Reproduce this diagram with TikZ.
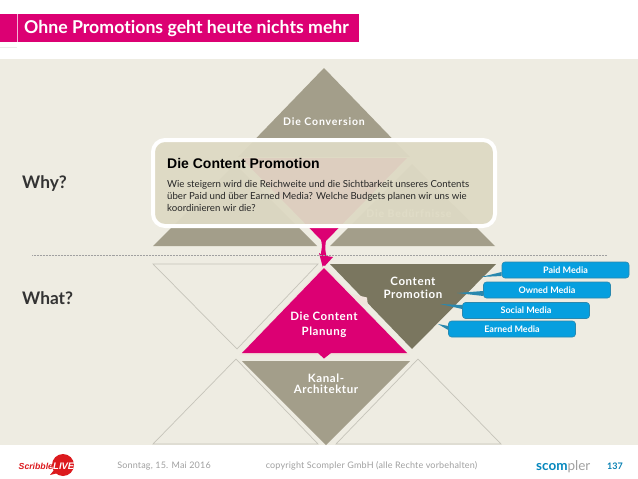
\documentclass[tikz,border=0pt]{standalone}
\usepackage{fontspec}
\setmainfont[Ligatures=CommonOff]{Lato}
\setsansfont{Liberation Sans}
\definecolor{paper}{HTML}{EEECE2}
\definecolor{stone}{HTML}{A39E8A}
\definecolor{olive}{HTML}{7A765F}
\definecolor{magent}{HTML}{DC0073}
\definecolor{sky}{HTML}{069FDF}
\definecolor{skyline}{HTML}{2A88AE}
\definecolor{wire}{HTML}{C6C4BA}
\definecolor{foot}{HTML}{A0A0A0}
\definecolor{scred}{HTML}{DC1A1E}
\definecolor{panel}{HTML}{DEDAC4}
\definecolor{rim}{HTML}{F0E4DC}
\tikzset{
  triolabel/.style={text=white,align=center,font=\fontsize{11.5}{12.5}\selectfont\bfseries\addfontfeatures{LetterSpace=5}},
  smalllabel/.style={text=white,align=center,font=\fontsize{10.5}{12}\selectfont\bfseries\addfontfeatures{LetterSpace=8}},
  mediabox/.style={fill=sky,draw=skyline,line width=.6pt,rounded corners=3pt,text=white,
    minimum width=127pt,minimum height=16pt,inner sep=0pt,font=\fontsize{9}{10}\selectfont\bfseries},
  pointer/.style={fill=skyline},
  whyhow/.style={anchor=west,inner sep=0pt,font=\fontsize{17.3}{18}\selectfont\bfseries,text=black!80},
  footer/.style={text=foot,font=\fontsize{9}{10}\selectfont\addfontfeatures{LetterSpace=2}}
}
\begin{document}
\begin{tikzpicture}[x=1pt,y=-1pt]
    \useasboundingbox (0,0) rectangle (638,479);
    \fill[white] (0,0) rectangle (638,479);
    \fill[paper] (0,59) rectangle (638,445);
    % header
    \fill[magent] (0,14) rectangle (359,42);
    \draw[white!70!magent,line width=.5pt] (17,14)--(17,42);
    \draw[black!8,line width=.5pt] (0,47.5)--(17,47.5);
    \node[anchor=west,inner sep=0pt,text=white,font=\fontsize{17.7}{20}\selectfont\bfseries] (title) at (24,28.5) {Ohne Promotions geht heute nichts mehr};
    % upper half
    \fill[stone] (324,68)--(410,157)--(238,157)--cycle;
    \fill[stone] (235,164)--(317,246)--(153,246)--cycle;
    \fill[stone] (412,164)--(495,246)--(330,246)--cycle;
    \fill[magent] (241,158)--(407,158)--(324,243)--cycle;
    \node[smalllabel] (conv) at (324,122) {Die Conversion};
    \node[smalllabel] (need) at (409,214) {Die Bedürfnisse};
    \fill[magent] (326,240) .. controls (325,248) and (325,250) .. (326.5,256)--(333,257)--(323,268)--(319,253)--(321,254) .. controls (321,250) and (323,247) .. (321,240)--cycle;
    \draw[dash pattern=on .8pt off .7pt,foot,line width=1pt] (32,255)--(607,255);
    \node[whyhow] (why) at (22,184) {Why?};
    \node[whyhow] (what) at (22,298) {What?};
    % lower half
    \draw[wire,line width=.7pt] (153,264)--(318,264)--(237,349)--cycle;
    \draw[wire,line width=.7pt] (236,359)--(318,444)--(153,444)--cycle;
    \draw[wire,line width=.7pt] (418,359)--(501,444)--(336,444)--cycle;
    \fill[olive] (330,264)--(496,264)--(412,349)--cycle;
    \fill[rim] (352,294)--(367,297.5)--(368,307)--(358,303)--cycle;
    \fill[stone] (242,361)--(410,361)--(326,445)--cycle;
    \draw[rim,line width=2.4pt,fill=magent] (324,267)--(407,354)--(242,354)--cycle;
    \fill[magent] (324,268)--(407,353)--(242,353)--cycle;
    \fill[magent] (318,353)--(331,353)--(324,358.5)--cycle;
    \node[triolabel] (promo) at (413,288) {Content\\Promotion};
    \node[triolabel,align=center] (plan) at (324,325) {Die Content\\[2.5pt]Planung};
    \node[triolabel] (kanal) at (326,384) {Kanal-\\[-1pt]Architektur};
    % media boxes
    \coordinate (paidtip) at (481,277);
    \coordinate (ownedtip) at (457,293);
    \coordinate (socialtip) at (440,304);
    \coordinate (earnedtip) at (438,324);
    \node[mediabox] (paid) at (565.5,270) {Paid Media};
    \node[mediabox] (owned) at (547,290) {Owned Media};
    \node[mediabox] (social) at (526,310.5) {Social Media};
    \node[mediabox] (earned) at (512,329) {Earned Media};
    \fill[pointer] (paidtip)--([yshift=-2pt]paid.west)--([yshift=-6pt]paid.west)--cycle;
    \fill[pointer] (ownedtip)--([yshift=-1pt]owned.west)--([yshift=-6pt]owned.west)--cycle;
    \fill[pointer] (socialtip)--([yshift=5.5pt]social.west)--([yshift=1.5pt]social.west)--cycle;
    \fill[pointer] (earnedtip)--([yshift=3pt]earned.west)--([yshift=-1pt]earned.west)--cycle;
    % callout
    \node[draw=white,line width=4pt,fill=panel,fill opacity=.95,text opacity=1,rounded corners=12pt,minimum width=342pt,minimum height=86pt] (callout) at (324,183) {};
    \node[anchor=west,inner sep=0pt,font=\sffamily\bfseries\fontsize{14}{16}\selectfont,text=black] (calltitle) at (167,163) {Die Content Promotion};
    \node[anchor=north west,align=left,inner sep=0pt,font=\fontsize{9.65}{12.1}\selectfont,text=black!85] (calltext) at (167,180) {Wie steigern wird die Reichweite und die Sichtbarkeit unseres Contents\\über Paid und über Earned Media? Welche Budgets  planen wir uns wie\\koordinieren wir die?};
    % footer
    \node[footer] (date) at (164,466) {Sonntag, 15. Mai 2016};
    \node[footer] (copy) at (371.5,466) {copyright Scompler GmbH (alle Rechte vorbehalten)};
    \fill[scred] (63,465) circle (11);
    \fill[scred] (54,470)--(50,475)--(58,473)--cycle;
    \node[anchor=west,inner sep=0pt,text=scred,font=\sffamily\bfseries\itshape\fontsize{8.7}{9}\selectfont] (scribble) at (18.5,466.5) {Scribble};
    \node[anchor=west,inner sep=0pt,text=white,font=\sffamily\bfseries\itshape\fontsize{9.5}{9}\selectfont] (live) at (53,466.5) {LIVE};
    \node[anchor=base west,inner sep=0pt,font=\fontsize{13.5}{15}\selectfont] (scompler) at (536,470.5) {\textcolor{sky!85!black}{\bfseries scom}\textcolor{foot}{pler}};
    \node[text=sky!80!black,font=\fontsize{9}{10}\selectfont\bfseries] (page) at (615,466) {137};
\end{tikzpicture}
\end{document}
